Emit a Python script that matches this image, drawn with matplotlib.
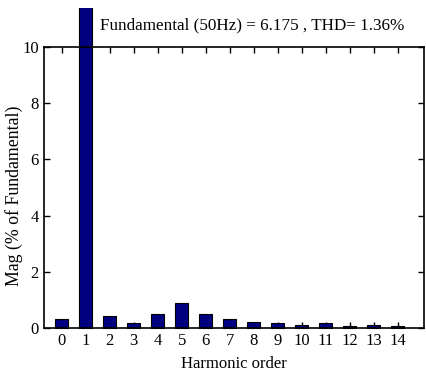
import matplotlib
matplotlib.use("Agg")
import matplotlib.pyplot as plt
from matplotlib.transforms import Bbox

plt.rcParams['font.family'] = ['Liberation Serif', 'DejaVu Serif']

harmonics = list(range(15))
mags = [0.32, 100.0, 0.42, 0.17, 0.48, 0.89, 0.48, 0.32, 0.20, 0.16, 0.09, 0.16, 0.05, 0.09, 0.05]
yticks = [0, 2, 4, 6, 8, 10]
title_text = "Fundamental (50Hz) = 6.175 , THD= 1.36%"

W, H = 427, 378
fig = plt.figure(figsize=(W/100, H/100), dpi=100)
ax = fig.add_axes([44.3/W, 1 - 327.7/H, (424 - 44.3)/W, (327.7 - 47.3)/H])

bars = ax.bar(harmonics, mags, width=0.55, color='#000080', edgecolor='black',
              linewidth=0.8, zorder=2.2)
clipbox = Bbox([[0, 0], [W, H - 8]])
for b in bars:
    b.set_clip_on(True)
    b.set_clip_box(clipbox)

ax.set_xlim(-0.73, 15.1)
ax.set_ylim(0, 10)
ax.set_xticks(harmonics)
ax.set_yticks(yticks)
ax.tick_params(direction='in', length=4, width=1.0, top=True, right=True, labelsize=12, pad=4)
for s in ax.spines.values():
    s.set_linewidth(1.2)
ax.set_xlabel("Harmonic order", fontsize=12, labelpad=5)
ax.set_ylabel("Mag (% of Fundamental)", fontsize=12.8)
ax.yaxis.set_label_coords(-0.056, 0.47)
fig.text(100/W, 1 - 25/H, title_text, fontsize=12.3, ha='left', va='center')

fig.savefig("out.png", dpi=100)
